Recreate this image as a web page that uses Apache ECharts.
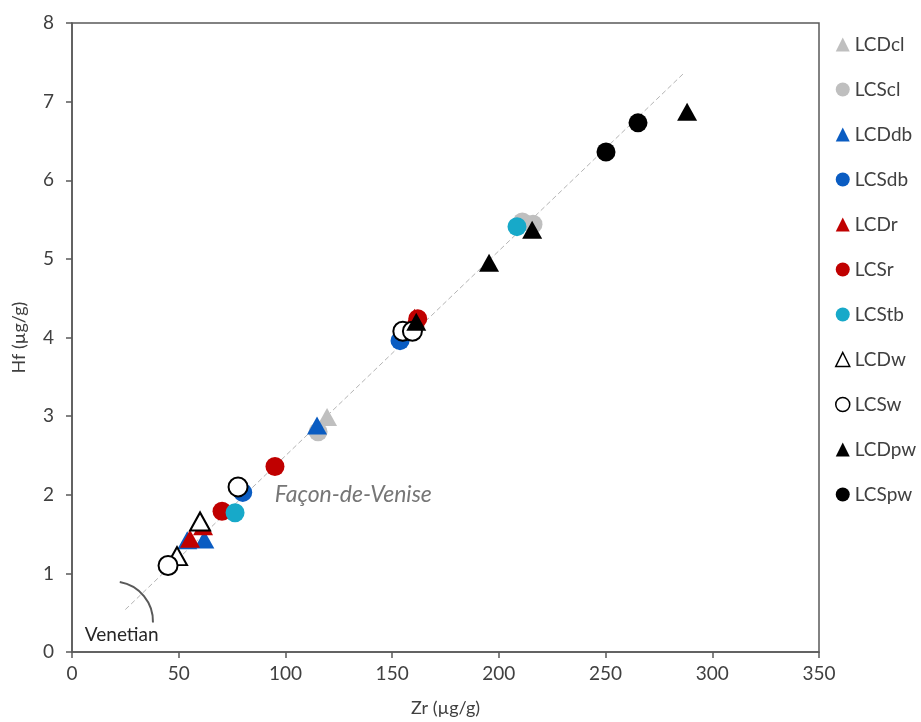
<!DOCTYPE html>
<html>
<head>
<meta charset="utf-8">
<script src="https://cdn.jsdelivr.net/npm/echarts@6/dist/echarts.min.js"></script>
<style>
  html, body { margin: 0; padding: 0; background: #fff; }
  #chart { width: 921px; height: 722px; }
</style>
</head>
<body>
<div id="chart"></div>
<script>
// values: [Zr, Hf]
var seriesNames = ['LCDcl', 'LCScl', 'LCDdb', 'LCSdb', 'LCDr', 'LCSr', 'LCStb', 'LCDw', 'LCSw', 'LCDpw', 'LCSpw'];

var LCDcl = [[119.5, 2.99]];
var LCScl = [[115.3, 2.80], [211.0, 5.47], [216.0, 5.44]];
var LCDdb = [[114.8, 2.88], [54.0, 1.42], [62.0, 1.43]];
var LCSdb = [[80.0, 2.03], [153.7, 3.96]];
var LCDr = [[55.3, 1.44], [61.4, 1.60], [160.5, 4.25]];
var LCSr = [[70.3, 1.79], [95.1, 2.36], [162.0, 4.24]];
var LCStb = [[76.4, 1.77], [208.5, 5.41]];
var LCDw = [[49.2, 1.22], [60.0, 1.66]];
var LCSw = [[45.0, 1.10], [77.8, 2.10], [155.0, 4.08], [159.5, 4.08]];
var LCDpw = [[161.3, 4.20], [195.4, 4.95], [215.6, 5.37], [288.2, 6.87]];
var LCSpw = [[250.2, 6.36], [265.2, 6.73]];

// dashed reference line end points
var refLine = [[25, 0.54], [287, 7.37]];

// annotation positions
var venetianArcCenter = [19.2, 0.39];
var venetianLabel = [6, 0.1];
var faconLabel = [95, 2.0];

var xTicks = [0, 50, 100, 150, 200, 250, 300, 350];
var yTicks = [0, 1, 2, 3, 4, 5, 6, 7, 8];

var data = [LCDcl, LCScl, LCDdb, LCSdb, LCDr, LCSr, LCStb, LCDw, LCSw, LCDpw, LCSpw];
var shapes = ['triangle', 'circle', 'triangle', 'circle', 'triangle', 'circle', 'circle', 'triangle', 'circle', 'triangle', 'circle'];
var fills = ['#BFBFBF', '#BFBFBF', '#0A5CC2', '#0A5CC2', '#C00000', '#C00000', '#17A9C9', '#FFFFFF', '#FFFFFF', '#000000', '#000000'];
var borders = [null, null, null, null, null, null, null, '#000000', '#000000', null, null];

var font = 'Lato, "Open Sans", sans-serif';
var textCol = '#404040';
var axisCol = '#595959';

var series = seriesNames.map(function (name, i) {
    var tri = shapes[i] === 'triangle';
    return {
        name: name,
        type: 'scatter',
        data: data[i],
        symbol: shapes[i],
        symbolSize: tri ? [20, 18] : 19,
        z: 3 + i,
        itemStyle: {
            color: fills[i],
            opacity: 1,
            borderColor: borders[i] || fills[i],
            borderWidth: borders[i] ? 2 : 0
        }
    };
});

series.unshift({
    name: 'ref',
    type: 'line',
    data: refLine,
    symbol: 'none',
    silent: true,
    z: 2,
    lineStyle: { color: '#B4B4B4', width: 1, type: [5, 3] }
});

var myChart = echarts.init(document.getElementById('chart'));

myChart.setOption({
    animation: false,
    backgroundColor: '#fff',
    grid: {
        left: 72, right: 102, top: 23, bottom: 68,
        show: true, borderColor: axisCol, borderWidth: 1.5
    },
    legend: {
        data: seriesNames.map(function (n, i) {
            return {
                name: n,
                icon: shapes[i],
                itemStyle: {
                    color: fills[i],
                    borderColor: borders[i] || fills[i],
                    borderWidth: borders[i] ? 1.5 : 0
                }
            };
        }),
        orient: 'vertical',
        left: 830,
        top: 30,
        itemWidth: 14,
        itemHeight: 14,
        itemGap: 26,
        textStyle: { color: textCol, fontSize: 19, fontFamily: font }
    },
    xAxis: {
        type: 'value',
        min: 0, max: 350, interval: 50,
        name: 'Zr (µg/g)',
        nameLocation: 'middle',
        nameGap: 47,
        nameTextStyle: { color: textCol, fontSize: 18, fontFamily: font },
        axisLine: { show: true, onZero: false, lineStyle: { color: axisCol, width: 1.5 } },
        axisTick: { show: true, length: 6, lineStyle: { color: axisCol, width: 1.5 } },
        axisLabel: {
            color: textCol, fontSize: 19, fontFamily: font, margin: 12,
            formatter: function (v) { return xTicks.indexOf(v) >= 0 ? String(v) : ''; }
        },
        splitLine: { show: false }
    },
    yAxis: {
        type: 'value',
        min: 0, max: 8, interval: 1,
        name: 'Hf (µg/g)',
        nameLocation: 'middle',
        nameGap: 44,
        nameRotate: 90,
        nameTextStyle: { color: textCol, fontSize: 18, fontFamily: font },
        axisLine: { show: true, onZero: false, lineStyle: { color: axisCol, width: 1.5 } },
        axisTick: { show: true, length: 6, lineStyle: { color: axisCol, width: 1.5 } },
        axisLabel: {
            color: textCol, fontSize: 19, fontFamily: font, margin: 18,
            formatter: function (v) { return yTicks.indexOf(v) >= 0 ? String(v) : ''; }
        },
        splitLine: { show: false }
    },
    series: series
});

// annotations placed through the axes
var c = myChart.convertToPixel({ gridIndex: 0 }, venetianArcCenter);
var vl = myChart.convertToPixel({ gridIndex: 0 }, venetianLabel);
var fl = myChart.convertToPixel({ gridIndex: 0 }, faconLabel);

myChart.setOption({
    graphic: [
        {
            type: 'arc',
            shape: { cx: c[0], cy: c[1], r: 40, startAngle: -1.4, endAngle: 0.03, clockwise: true },
            style: { stroke: '#595959', lineWidth: 2, fill: null },
            z: 20
        },
        {
            type: 'text',
            x: vl[0], y: vl[1],
            style: {
                text: 'Venetian', fill: '#262626', font: '19px ' + font,
                verticalAlign: 'bottom'
            },
            z: 20
        },
        {
            type: 'text',
            x: fl[0], y: fl[1],
            style: {
                text: 'Façon-de-Venise', fill: '#767676', font: 'italic 23px ' + font,
                verticalAlign: 'middle'
            },
            z: 20
        }
    ]
});
</script>
</body>
</html>
